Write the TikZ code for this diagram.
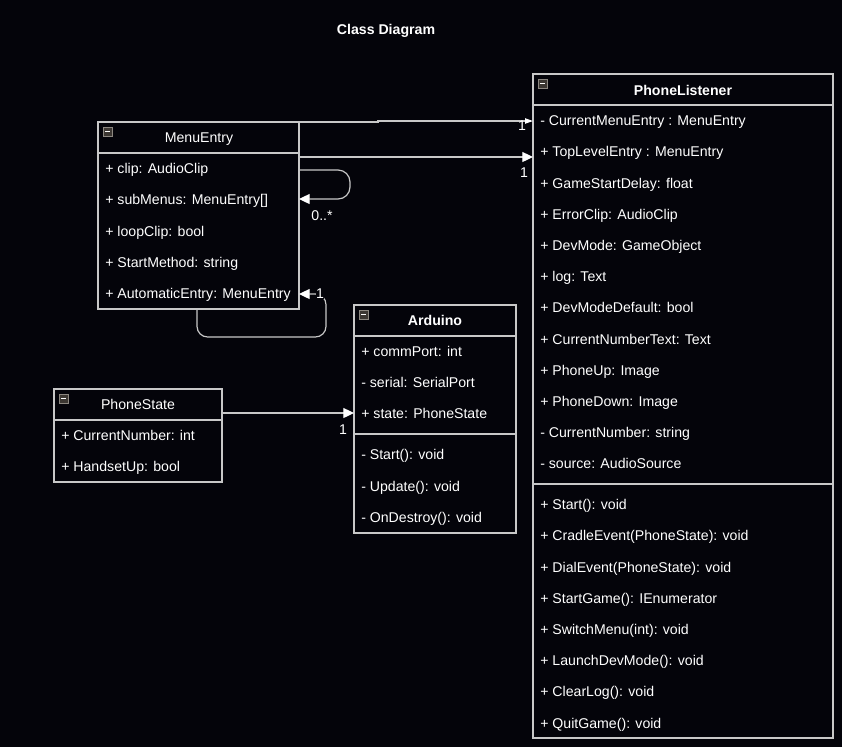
\documentclass[tikz,border=0pt]{standalone}
\usepackage{fontspec}
\setmainfont{Liberation Sans}
\usetikzlibrary{arrows.meta}
\definecolor{bgc}{RGB}{4,4,10}
\definecolor{linec}{RGB}{200,200,200}
\definecolor{iconfill}{RGB}{60,55,50}
\definecolor{iconedge}{RGB}{140,135,128}
\begin{document}
\begin{tikzpicture}[x=0.75pt,y=-0.75pt,
  cls/.style n args={2}{draw=linec, line width=0.9pt, minimum width=#1*0.75pt, minimum height=#2*0.75pt, anchor=north west, inner sep=0pt, outer sep=0pt},
  sep/.style={draw=linec, line width=0.9pt},
  attr/.style={anchor=west, inner sep=0pt, text=white, font=\fontsize{10.6}{12}\selectfont, text height=9pt, text depth=1.6pt},
  hdr/.style={anchor=center, inner sep=0pt, text=white, font=\fontsize{10.6}{12}\selectfont, text height=9pt, text depth=1.6pt},
  hdrb/.style={hdr, font=\fontsize{10.6}{12}\selectfont\bfseries},
  mult/.style={inner sep=0pt, text=white, font=\fontsize{10.6}{12}\selectfont},
  conn/.style={draw=linec, line width=0.9pt},
  arr/.style={-{Triangle[width=7.5pt,length=8pt,fill=white,color=white]}},
  arrs/.style={-{Triangle[width=4pt,length=6pt,fill=white,color=white]}},
  icon/.style={draw=iconedge, fill=iconfill, line width=0.5pt}
]
\useasboundingbox (0,0) rectangle (842,747);
\fill[bgc] (0,0) rectangle (842,747);

% title
\node[hdrb] (title) at (386,30) {Class Diagram};

% ---------- MenuEntry ----------
\node[cls={201}{187}] (ME) at (98,122) {};
\draw[sep] (98,153) -- (299,153);
\draw[icon] (103,127) rectangle (112,136);
\draw[white, line width=0.8pt] (105,131.5) -- (110,131.5);
\node[hdr] (MEt) at (199,138) {MenuEntry};
\node[attr] (me1) at (105,169) {+ clip: AudioClip};
\node[attr] (me2) at (105,200) {+ subMenus: MenuEntry[]};
\node[attr] (me3) at (105,232) {+ loopClip: bool};
\node[attr] (me4) at (105,263) {+ StartMethod: string};
\node[attr] (me5) at (105,294) {+ AutomaticEntry: MenuEntry};

% ---------- PhoneListener ----------
\node[cls={300}{664}] (PL) at (533,74) {};
\draw[sep] (533,105) -- (833,105);
\draw[sep] (533,484) -- (833,484);
\draw[icon] (538,79) rectangle (547,88);
\draw[white, line width=0.8pt] (540,83.5) -- (545,83.5);
\node[hdrb] (PLt) at (683,91) {PhoneListener};
\node[attr] (pl1) at (540,121) {- CurrentMenuEntry : MenuEntry};
\node[attr] (pl2) at (540,152) {+ TopLevelEntry : MenuEntry};
\node[attr] (pl3) at (540,184) {+ GameStartDelay: float};
\node[attr] (pl4) at (540,215) {+ ErrorClip: AudioClip};
\node[attr] (pl5) at (540,246) {+ DevMode: GameObject};
\node[attr] (pl6) at (540,277) {+ log: Text};
\node[attr] (pl7) at (540,308) {+ DevModeDefault: bool};
\node[attr] (pl8) at (540,340) {+ CurrentNumberText: Text};
\node[attr] (pl9) at (540,371) {+ PhoneUp: Image};
\node[attr] (pl10) at (540,402) {+ PhoneDown: Image};
\node[attr] (pl11) at (540,433) {- CurrentNumber: string};
\node[attr] (pl12) at (540,464) {- source: AudioSource};
\node[attr] (pm1) at (540,505) {+ Start(): void};
\node[attr] (pm2) at (540,536) {+ CradleEvent(PhoneState): void};
\node[attr] (pm3) at (540,568) {+ DialEvent(PhoneState): void};
\node[attr] (pm4) at (540,599) {+ StartGame(): IEnumerator};
\node[attr] (pm5) at (540,630) {+ SwitchMenu(int): void};
\node[attr] (pm6) at (540,661) {+ LaunchDevMode(): void};
\node[attr] (pm7) at (540,692) {+ ClearLog(): void};
\node[attr] (pm8) at (540,724) {+ QuitGame(): void};

% ---------- Arduino ----------
\node[cls={162}{228}] (AR) at (354,305) {};
\draw[sep] (354,336) -- (516,336);
\draw[sep] (354,434) -- (516,434);
\draw[icon] (359,310) rectangle (368,319);
\draw[white, line width=0.8pt] (361,314.5) -- (366,314.5);
\node[hdrb] (ARt) at (435,321) {Arduino};
\node[attr] (ar1) at (361,352) {+ commPort: int};
\node[attr] (ar2) at (361,383) {- serial: SerialPort};
\node[attr] (ar3) at (361,414) {+ state: PhoneState};
\node[attr] (am1) at (361,455) {- Start(): void};
\node[attr] (am2) at (361,487) {- Update(): void};
\node[attr] (am3) at (361,518) {- OnDestroy(): void};

% ---------- PhoneState ----------
\node[cls={168}{93}] (PS) at (54,389) {};
\draw[sep] (54,420) -- (222,420);
\draw[icon] (59,394) rectangle (68,403);
\draw[white, line width=0.8pt] (61,398.5) -- (66,398.5);
\node[hdr] (PSt) at (138,405) {PhoneState};
\node[attr] (ps1) at (61,436) {+ CurrentNumber: int};
\node[attr] (ps2) at (61,467) {+ HandsetUp: bool};

% ---------- connectors ----------
\coordinate (c1s) at (299,122);
\coordinate (c1e) at (533,121);
\draw[conn, arrs] (c1s) -- (378,122) -- (378,121) -- (c1e);
\node[mult] (m1) at (522,126) {1};

\coordinate (c2s) at (299,157);
\coordinate (c2e) at (533,157);
\draw[conn, arr] (c2s) -- (c2e);
\node[mult] (m2) at (524,173) {1};

\coordinate (c3s) at (299,170);
\coordinate (c3e) at (299,199);
\draw[conn, arr, rounded corners=9pt] (c3s) -- (350,170) -- (350,199) -- (c3e);
\node[mult] (m3) at (322,216) {0..*};

\coordinate (c4s) at (197,309);
\coordinate (c4e) at (299,294);
\draw[conn, arr, rounded corners=8pt] (c4s) -- (197,337) -- (326,337) -- (326,294) -- (c4e);
\node[mult, fill=bgc] (m4) at (320,294) {1};

\coordinate (c5s) at (222,413);
\coordinate (c5e) at (354,413);
\draw[conn, arr] (c5s) -- (c5e);
\node[mult] (m5) at (343,430) {1};
\end{tikzpicture}
\end{document}
